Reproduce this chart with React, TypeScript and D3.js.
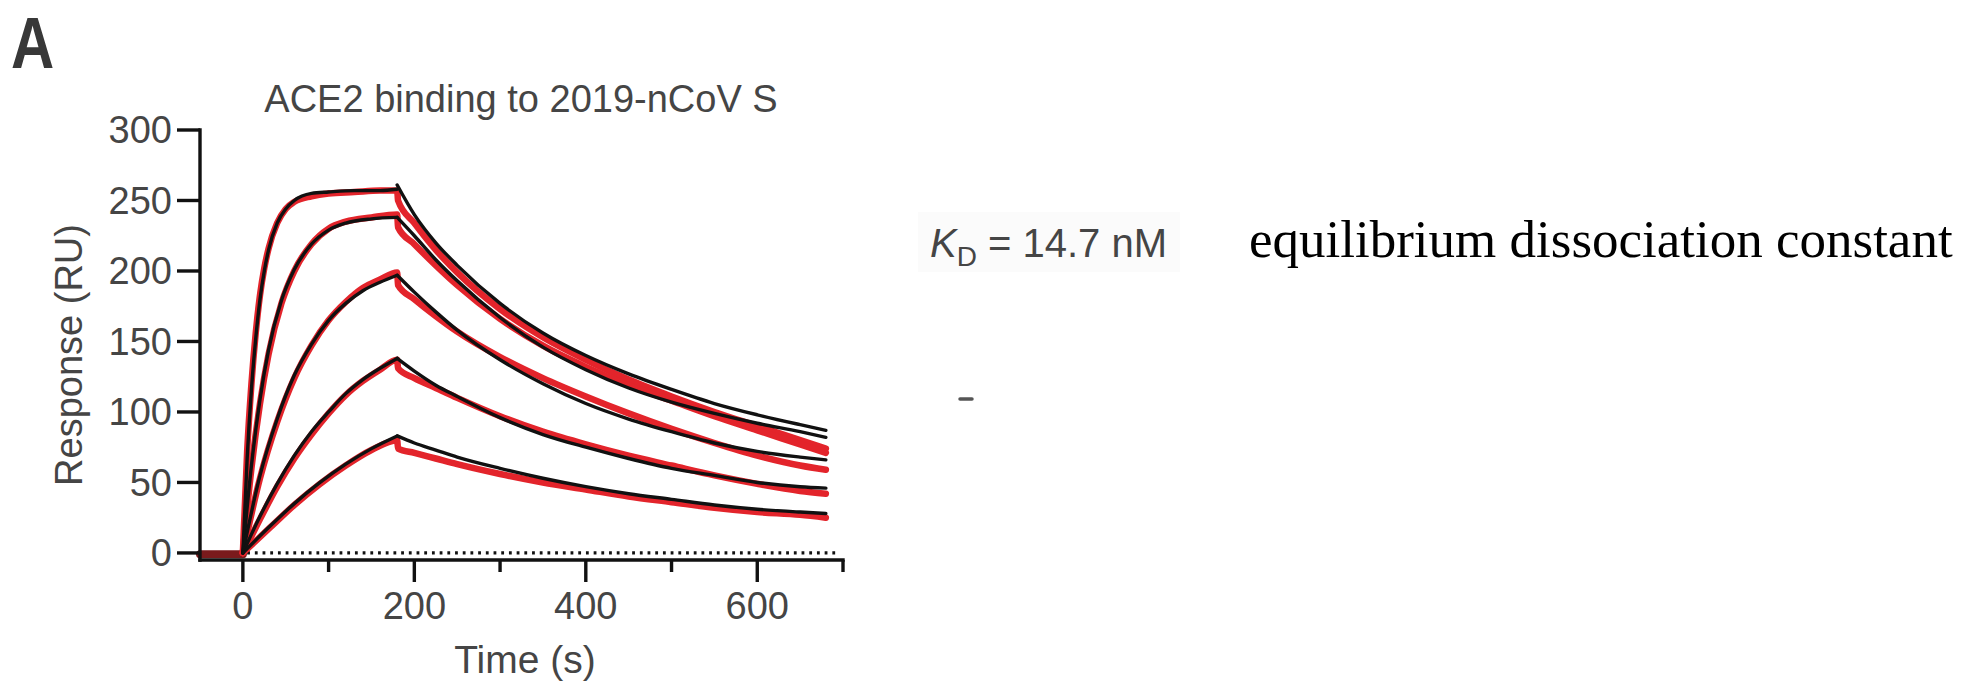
import React from "react";
import * as d3 from "d3";

// Time grids (s) for the association phase of each trace
const ASSOC_T_FAST = [0, 5, 10, 15, 20, 25, 30, 40, 50, 60, 80, 100, 130, 160, 180];
const ASSOC_T_MID = [0, 10, 20, 30, 45, 60, 80, 100, 120, 150, 180];
const ASSOC_T_SLOW = [0, 20, 40, 60, 80, 100, 120, 140, 160, 180];
const ASSOC_T_LIN = [0, 30, 60, 90, 120, 150, 180];

// Time grids (s) for the dissociation phase
const FIT_DISSOC_T = [180, 200, 225, 250, 300, 350, 400, 450, 500, 550, 600, 650, 680];
const DATA_DISSOC_T = [181, 200, 225, 250, 300, 350, 400, 450, 500, 550, 600, 650, 680];

// Pre-injection baseline
const BASELINE_T = [-50, 0];
const BASELINE_V = [-1, -1];

// Fitted curves (RU), highest to lowest concentration
const FIT1_ASSOC = [0, 67, 116, 152, 180, 200, 215, 234, 244, 250, 255, 256, 257, 257, 258];
const FIT2_ASSOC = [0, 62, 109, 144, 179, 201, 219, 229, 234, 237, 238];
const FIT3_ASSOC = [0, 55, 95, 126, 148, 165, 177, 186, 192, 197];
const FIT4_ASSOC = [0, 26, 49, 69, 86, 100, 113, 123, 131, 138];
const FIT5_ASSOC = [0, 18, 35, 50, 63, 74, 83];

const FIT1_DISSOC = [261, 240, 220, 204, 177, 156, 140, 127, 116, 106, 98, 91, 87];
const FIT2_DISSOC = [238, 225, 208, 193, 167, 146, 130, 117, 107, 99, 92, 86, 82];
const FIT3_DISSOC = [197, 185, 171, 158, 137, 120, 106, 95, 86, 78, 72, 68, 66];
const FIT4_DISSOC = [138, 129, 119, 111, 96, 84, 75, 67, 60, 55, 50, 47, 46];
const FIT5_DISSOC = [83, 78, 73, 68, 60, 53, 47, 42, 38, 34, 31, 29, 28];

// Measured sensorgrams (RU)
const DATA1_ASSOC = [0, 72, 120, 156, 183, 202, 216, 234, 244, 249, 253, 255, 256, 257, 257];
const DATA2_ASSOC = [0, 60, 106, 141, 177, 200, 219, 230, 235, 238, 240];
const DATA3_ASSOC = [0, 53, 93, 124, 147, 165, 178, 188, 194, 199];
const DATA4_ASSOC = [0, 24, 47, 67, 84, 99, 112, 122, 130, 137];
const DATA5_ASSOC = [0, 17, 34, 49, 62, 73, 80];

const DATA1_DISSOC = [250, 234, 215, 199, 173, 153, 137, 123, 111, 100, 90, 80, 74];
const DATA2_DISSOC = [231, 219, 204, 190, 166, 147, 132, 119, 108, 97, 87, 77, 71];
const DATA3_DISSOC = [190, 180, 168, 157, 139, 124, 111, 99, 88, 78, 69, 62, 59];
const DATA4_DISSOC = [131, 124, 117, 110, 97, 86, 77, 69, 62, 55, 49, 44, 42];
const DATA5_DISSOC = [74, 71, 67, 63, 56, 50, 45, 40, 36, 32, 29, 27, 25];

// Axes
const X_DOMAIN = [-50, 700];
const Y_DOMAIN = [-5, 300];
const X_MAJOR_TICKS = [0, 200, 400, 600];
const X_MINOR_TICKS = [100, 300, 500, 700];
const Y_TICKS = [0, 50, 100, 150, 200, 250, 300];

const TITLE = "ACE2 binding to 2019-nCoV S";
const X_LABEL = "Time (s)";
const Y_LABEL = "Response (RU)";
const PANEL_LETTER = "A";
const KD_VALUE = "14.7";
const KD_UNIT = "nM";
const KD_NOTE = "equilibrium dissociation constant";

type Pt = [number, number];
const zip = (t: number[], v: number[]): Pt[] => t.map((ti, i) => [ti, v[i]] as Pt);

const ASSOC_GRIDS = [ASSOC_T_FAST, ASSOC_T_MID, ASSOC_T_SLOW, ASSOC_T_SLOW, ASSOC_T_LIN];
const FIT_ASSOC = [FIT1_ASSOC, FIT2_ASSOC, FIT3_ASSOC, FIT4_ASSOC, FIT5_ASSOC];
const FIT_DISSOC = [FIT1_DISSOC, FIT2_DISSOC, FIT3_DISSOC, FIT4_DISSOC, FIT5_DISSOC];
const DATA_ASSOC = [DATA1_ASSOC, DATA2_ASSOC, DATA3_ASSOC, DATA4_ASSOC, DATA5_ASSOC];
const DATA_DISSOC = [DATA1_DISSOC, DATA2_DISSOC, DATA3_DISSOC, DATA4_DISSOC, DATA5_DISSOC];

const SANS = "'Liberation Sans', Arial, Helvetica, sans-serif";
const SERIF = "'Liberation Serif', 'Times New Roman', Times, serif";
const LABEL_GRAY = "#454545";
const RED = "#e3242b";
const INK = "#111111";

export default function App() {
  const W = 1974;
  const H = 683;

  const x = d3.scaleLinear().domain(X_DOMAIN).range([200, 843]);
  const y = d3.scaleLinear().domain(Y_DOMAIN).range([560, 130]);

  const smooth = d3
    .line<Pt>()
    .x((d) => x(d[0]))
    .y((d) => y(d[1]))
    .curve(d3.curveMonotoneX);
  const straight = d3
    .line<Pt>()
    .x((d) => x(d[0]))
    .y((d) => y(d[1]));

  const baseline = straight(zip(BASELINE_T, BASELINE_V)) || "";

  const dataPaths = DATA_ASSOC.map(
    (a, i) =>
      smooth([...zip(ASSOC_GRIDS[i], a), ...zip(DATA_DISSOC_T, DATA_DISSOC[i])]) || ""
  );
  const fitAssocPaths = FIT_ASSOC.map((a, i) => smooth(zip(ASSOC_GRIDS[i], a)) || "");
  const fitDissocPaths = FIT_DISSOC.map((d) => smooth(zip(FIT_DISSOC_T, d)) || "");

  const xAxisY = y(Y_DOMAIN[0]);
  const yAxisX = x(X_DOMAIN[0]);

  return (
    <svg
      width={W}
      height={H}
      viewBox={`0 0 ${W} ${H}`}
      style={{ position: "absolute", left: 0, top: 0, display: "block", background: "#fff" }}
    >
      <rect x={0} y={0} width={W} height={H} fill="#fff" />

      {/* panel letter */}
      <text
        x={0}
        y={0}
        transform="translate(11,68) scale(0.82,1)"
        fontFamily={SANS}
        fontWeight="bold"
        fontSize={73}
        fill="#383838"
      >
        {PANEL_LETTER}
      </text>

      {/* title */}
      <text x={521} y={112} textAnchor="middle" fontFamily={SANS} fontSize={38} fill={LABEL_GRAY}>
        {TITLE}
      </text>

      {/* zero reference line */}
      <line
        x1={x(5)}
        x2={x(694)}
        y1={y(0)}
        y2={y(0)}
        stroke={INK}
        strokeWidth={3.2}
        strokeDasharray="2.8 4.9"
      />

      {/* measured traces */}
      <g fill="none" stroke={RED} strokeLinecap="round" strokeLinejoin="round">
        <path d={baseline} strokeWidth={8} stroke="#7a1a1c" />
        {dataPaths.map((d, i) => (
          <path key={`data-${i}`} d={d} strokeWidth={6.5} />
        ))}
      </g>

      {/* fitted curves */}
      <g fill="none" stroke={INK} strokeLinecap="round" strokeLinejoin="round" strokeWidth={3.4}>
        {fitAssocPaths.map((d, i) => (
          <path key={`fa-${i}`} d={d} />
        ))}
        {fitDissocPaths.map((d, i) => (
          <path key={`fd-${i}`} d={d} />
        ))}
      </g>

      {/* y axis */}
      <g stroke={INK} strokeWidth={3.4} fill="none">
        <line x1={yAxisX} x2={yAxisX} y1={y(300) - 1.7} y2={xAxisY + 1.7} />
        {Y_TICKS.map((t) => (
          <line key={`yt-${t}`} x1={yAxisX - 23} x2={yAxisX} y1={y(t)} y2={y(t)} />
        ))}
      </g>
      {Y_TICKS.map((t) => (
        <text
          key={`yl-${t}`}
          x={yAxisX - 28}
          y={y(t)}
          dy="0.35em"
          textAnchor="end"
          fontFamily={SANS}
          fontSize={38}
          fill={LABEL_GRAY}
        >
          {t}
        </text>
      ))}

      {/* x axis */}
      <g stroke={INK} strokeWidth={3.4} fill="none">
        <line x1={yAxisX - 1.7} x2={x(700) + 1.7} y1={xAxisY} y2={xAxisY} />
        {X_MAJOR_TICKS.map((t) => (
          <line key={`xt-${t}`} x1={x(t)} x2={x(t)} y1={xAxisY} y2={xAxisY + 22} />
        ))}
        {X_MINOR_TICKS.map((t) => (
          <line key={`xm-${t}`} x1={x(t)} x2={x(t)} y1={xAxisY} y2={xAxisY + 12} />
        ))}
      </g>
      {X_MAJOR_TICKS.map((t) => (
        <text
          key={`xl-${t}`}
          x={x(t)}
          y={619}
          textAnchor="middle"
          fontFamily={SANS}
          fontSize={38}
          fill={LABEL_GRAY}
        >
          {t}
        </text>
      ))}

      {/* axis titles */}
      <text x={525} y={673} textAnchor="middle" fontFamily={SANS} fontSize={39} fill={LABEL_GRAY}>
        {X_LABEL}
      </text>
      <text
        transform="translate(82,355) rotate(-90)"
        textAnchor="middle"
        fontFamily={SANS}
        fontSize={38}
        fill={LABEL_GRAY}
      >
        {Y_LABEL}
      </text>

      {/* binding constant */}
      <rect x={918} y={212} width={262} height={60} fill="#fbfbfb" />
      <text x={930} y={257} fontFamily={SANS} fontSize={40} fill={LABEL_GRAY}>
        <tspan fontStyle="italic">K</tspan>
        <tspan fontSize={28} dy={9}>
          D
        </tspan>
        <tspan dy={-9}>{` = ${KD_VALUE} ${KD_UNIT}`}</tspan>
      </text>
      <line x1={960} x2={972} y1={399} y2={399} stroke="#555" strokeWidth={3.5} strokeLinecap="round" />

      <text x={1249} y={257} fontFamily={SERIF} fontSize={53} fill="#000">
        {KD_NOTE}
      </text>
    </svg>
  );
}
